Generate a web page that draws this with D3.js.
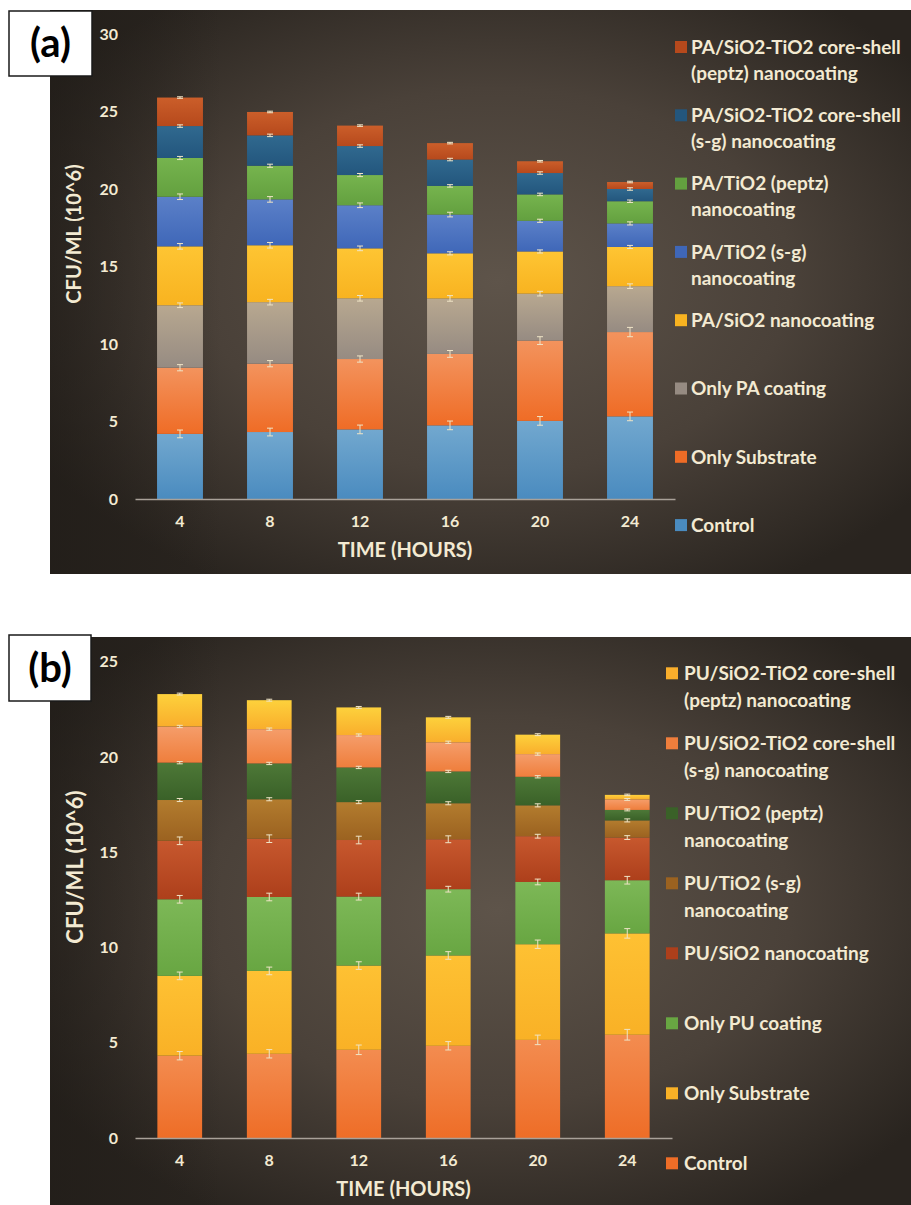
<!DOCTYPE html>
<html><head><meta charset="utf-8">
<script src="https://cdn.jsdelivr.net/npm/d3@7/dist/d3.min.js"></script>
<style>
body{margin:0;background:#fff;}
svg{display:block;font-family:Lato,'Open Sans',sans-serif;font-weight:700;}
</style>
</head><body>
<svg id="chart" width="911" height="1205"></svg>
<script>
// ---------- shared ----------
const times = ["4", "8", "12", "16", "20", "24"];

// ---------- panel (a) data (bottom -> top stacking order) ----------
const seriesKeysA = ["control", "substrate", "paCoating", "paSiO2", "paTiO2sg", "paTiO2pz", "paCoreSg", "paCorePz"];
const legendLinesA = [
  ["Control"], ["Only Substrate"], ["Only PA coating"], ["PA/SiO2 nanocoating"],
  ["PA/TiO2 (s-g)", "nanocoating"], ["PA/TiO2 (peptz)", "nanocoating"],
  ["PA/SiO2-TiO2 core-shell", "(s-g) nanocoating"], ["PA/SiO2-TiO2 core-shell", "(peptz) nanocoating"]
];
const controlA   = [4.20, 4.32, 4.49, 4.75, 5.04, 5.33];
const substrateA = [4.27, 4.41, 4.54, 4.61, 5.18, 5.44];
const paCoatingA = [4.03, 3.97, 3.92, 3.58, 3.03, 2.96];
const paSiO2A    = [3.80, 3.67, 3.22, 2.91, 2.72, 2.53];
const paTiO2sgA  = [3.20, 2.96, 2.78, 2.50, 1.98, 1.52];
const paTiO2pzA  = [2.50, 2.17, 1.95, 1.85, 1.70, 1.43];
const paCoreSgA  = [2.06, 1.96, 1.87, 1.70, 1.38, 0.79];
const paCorePzA  = [1.84, 1.51, 1.32, 1.06, 0.76, 0.45];
// error (+/-) for each series
const errControlA   = [0.25, 0.25, 0.28, 0.28, 0.28, 0.28];
const errSubstrateA = [0.20, 0.20, 0.20, 0.22, 0.25, 0.30];
const errPaCoatingA = [0.15, 0.18, 0.18, 0.18, 0.15, 0.15];
const errPaSiO2A    = [0.18, 0.18, 0.15, 0.10, 0.10, 0.10];
const errPaTiO2sgA  = [0.18, 0.18, 0.15, 0.15, 0.10, 0.10];
const errPaTiO2pzA  = [0.10, 0.10, 0.10, 0.08, 0.08, 0.08];
const errPaCoreSgA  = [0.08, 0.08, 0.08, 0.08, 0.08, 0.08];
const errPaCorePzA  = [0.05, 0.05, 0.05, 0.05, 0.05, 0.05];
const yTicksA = [0, 5, 10, 15, 20, 25, 30];
const colorsA = [
  ["#72a8cf", "#4a8bbf"], ["#f3935d", "#ef6c26"], ["#b8a890", "#968b82"], ["#fec533", "#f8b320"],
  ["#5b80c8", "#3f67b8"], ["#76b44e", "#63a03f"], ["#30698f", "#23567d"], ["#cb5e2a", "#b6491c"]
];

// ---------- panel (b) data ----------
const seriesKeysB = ["control", "substrate", "puCoating", "puSiO2", "puTiO2sg", "puTiO2pz", "puCoreSg", "puCorePz"];
const legendLinesB = [
  ["Control"], ["Only Substrate"], ["Only PU coating"], ["PU/SiO2 nanocoating"],
  ["PU/TiO2 (s-g)", "nanocoating"], ["PU/TiO2 (peptz)", "nanocoating"],
  ["PU/SiO2-TiO2 core-shell", "(s-g) nanocoating"], ["PU/SiO2-TiO2 core-shell", "(peptz) nanocoating"]
];
const controlB   = [4.32, 4.42, 4.63, 4.84, 5.15, 5.42];
const substrateB = [4.19, 4.35, 4.42, 4.74, 5.02, 5.32];
const puCoatingB = [4.02, 3.88, 3.62, 3.48, 3.27, 2.79];
const puSiO2B    = [3.07, 3.06, 2.97, 2.62, 2.40, 2.24];
const puTiO2sgB  = [2.14, 2.07, 1.99, 1.89, 1.62, 0.90];
const puTiO2pzB  = [1.96, 1.88, 1.82, 1.67, 1.50, 0.55];
const puCoreSgB  = [1.90, 1.80, 1.70, 1.53, 1.19, 0.55];
const puCorePzB  = [1.70, 1.52, 1.45, 1.31, 1.02, 0.24];
const errControlB   = [0.22, 0.22, 0.25, 0.22, 0.25, 0.28];
const errSubstrateB = [0.20, 0.20, 0.20, 0.20, 0.22, 0.25];
const errPuCoatingB = [0.20, 0.20, 0.18, 0.15, 0.15, 0.20];
const errPuSiO2B    = [0.20, 0.20, 0.20, 0.18, 0.10, 0.10];
const errPuTiO2sgB  = [0.08, 0.08, 0.08, 0.08, 0.08, 0.08];
const errPuTiO2pzB  = [0.06, 0.06, 0.06, 0.06, 0.06, 0.05];
const errPuCoreSgB  = [0.06, 0.06, 0.06, 0.06, 0.06, 0.05];
const errPuCorePzB  = [0.05, 0.05, 0.05, 0.05, 0.05, 0.04];
const yTicksB = [0, 5, 10, 15, 20, 25];
const colorsB = [
  ["#f38c50", "#ee6d27"], ["#fec133", "#f9b126"], ["#7db857", "#68a642"], ["#c7582e", "#ad3f1b"],
  ["#b37c2e", "#9b6220"], ["#4d7837", "#3a6128"], ["#f59d6a", "#ef7e3c"], ["#fdd13c", "#f9ae2c"]
];

// ---------- drawing ----------
const svg = d3.select("#chart");
const defs = svg.append("defs");
const textColor = "#f3ead2";

function buildRows(seriesArrays, keys) {
  return times.map((t, i) => {
    const row = { time: t };
    keys.forEach((k, j) => row[k] = seriesArrays[j][i]);
    return row;
  });
}

function drawPanel(cfg) {
  const g = svg.append("g");
  // background
  const bgId = "bg" + cfg.id;
  const rg = defs.append("radialGradient").attr("id", bgId)
    .attr("cx", "52%").attr("cy", "48%").attr("r", "62%");
  rg.append("stop").attr("offset", "0%").attr("stop-color", "#5e544a");
  rg.append("stop").attr("offset", "55%").attr("stop-color", "#4a4139");
  rg.append("stop").attr("offset", "100%").attr("stop-color", "#29241f");
  g.append("rect").attr("x", cfg.bg[0]).attr("y", cfg.bg[1])
    .attr("width", cfg.bg[2]).attr("height", cfg.bg[3]).attr("fill", `url(#${bgId})`);
  // left darkening
  const lgId = "lg" + cfg.id;
  const lg = defs.append("linearGradient").attr("id", lgId).attr("x1", 0).attr("x2", 1).attr("y1", 0).attr("y2", 0);
  lg.append("stop").attr("offset", "0%").attr("stop-color", "#1e1a16").attr("stop-opacity", 0.55);
  lg.append("stop").attr("offset", "20%").attr("stop-color", "#1e1a16").attr("stop-opacity", 0);
  g.append("rect").attr("x", cfg.bg[0]).attr("y", cfg.bg[1])
    .attr("width", cfg.bg[2]).attr("height", cfg.bg[3]).attr("fill", `url(#${lgId})`);

  const x = d3.scaleBand().domain(times).range(cfg.xRange)
    .paddingInner(cfg.padIn).paddingOuter(cfg.padOut);
  const y = d3.scaleLinear().domain([0, d3.max(cfg.ticks)]).range(cfg.yRange);

  // gradients for series
  cfg.colors.forEach((c, i) => {
    const gr = defs.append("linearGradient").attr("id", `s${cfg.id}${i}`)
      .attr("x1", 0).attr("y1", 0).attr("x2", 0).attr("y2", 1);
    gr.append("stop").attr("offset", "0%").attr("stop-color", c[0]);
    gr.append("stop").attr("offset", "100%").attr("stop-color", c[1]);
  });

  const rows = buildRows(cfg.series, cfg.keys);
  const stacked = d3.stack().keys(cfg.keys)(rows);

  // bars
  const layers = g.selectAll("g.layer").data(stacked).join("g").attr("class", "layer")
    .attr("fill", (d, i) => `url(#s${cfg.id}${i})`);
  layers.selectAll("rect").data(d => d).join("rect")
    .attr("x", d => x(d.data.time))
    .attr("width", x.bandwidth())
    .attr("y", d => y(d[1]))
    .attr("height", d => y(d[0]) - y(d[1]));

  // error bars
  const errG = g.append("g").attr("stroke", "#efe4c6").attr("stroke-width", 1).attr("fill", "none");
  stacked.forEach((layer, si) => {
    layer.forEach((d, ti) => {
      const e = cfg.errors[si][ti];
      const cx = x(d.data.time) + x.bandwidth() / 2;
      const yt = y(d[1] + e), yb = y(d[1] - e);
      errG.append("line").attr("x1", cx).attr("x2", cx).attr("y1", yt).attr("y2", yb);
      errG.append("line").attr("x1", cx - 3).attr("x2", cx + 3).attr("y1", yt).attr("y2", yt);
      errG.append("line").attr("x1", cx - 3).attr("x2", cx + 3).attr("y1", yb).attr("y2", yb);
    });
  });

  // y axis
  const yAx = g.append("g").attr("transform", `translate(${cfg.xRange[0]},0)`)
    .call(d3.axisLeft(y).tickValues(cfg.ticks).tickSize(0).tickPadding(17));
  yAx.select(".domain").remove();
  yAx.selectAll("text").attr("fill", textColor).style("font-size", "16px").style("font-weight", 700)
    .style("font-family", "Lato");

  // x axis
  const xAx = g.append("g").attr("transform", `translate(0,${cfg.yRange[0]})`)
    .call(d3.axisBottom(x).tickSize(0).tickSizeOuter(0).tickPadding(17));
  xAx.select(".domain").attr("stroke", "#a9a199").attr("stroke-width", 1.5);
  xAx.selectAll("text").attr("fill", textColor).style("font-size", "16px").style("font-weight", 700)
    .style("font-family", "Lato");

  // axis titles
  g.append("text").attr("x", (cfg.xRange[0] + cfg.xRange[1]) / 2).attr("y", cfg.xTitleY)
    .attr("text-anchor", "middle").attr("fill", textColor).style("font-size", "20px").text("TIME (HOURS)");
  g.append("text").attr("transform", `translate(${cfg.yTitle[0]},${cfg.yTitle[1]}) rotate(-90)`)
    .attr("text-anchor", "middle").attr("dy", "0.35em").attr("fill", textColor)
    .style("font-size", cfg.yTitleSize + "px").text("CFU/ML (10^6)");

  // legend (top item = last series)
  const n = cfg.keys.length;
  for (let k = 0; k < n; k++) {
    const si = n - 1 - k;
    const cy = cfg.legend.y0 + k * cfg.legend.step;
    g.append("rect").attr("x", cfg.legend.sx).attr("y", cy - 6).attr("width", 12).attr("height", 12)
      .attr("fill", cfg.colors[si][1]);
    const t = g.append("text").attr("x", cfg.legend.tx).attr("y", cy)
      .attr("fill", textColor).style("font-size", cfg.legend.size + "px");
    cfg.legendLines[si].forEach((line, li) => {
      t.append("tspan").attr("x", cfg.legend.tx).attr("dy", li === 0 ? "0.36em" : cfg.legend.lh).text(line);
    });
  }

  // panel label
  g.append("rect").attr("x", cfg.label.x).attr("y", cfg.label.y).attr("width", cfg.label.w).attr("height", cfg.label.h)
    .attr("fill", "#fff").attr("stroke", "#1a1a1a").attr("stroke-width", 1.5);
  g.append("text").attr("x", cfg.label.x + cfg.label.w / 2).attr("y", cfg.label.by)
    .attr("text-anchor", "middle").attr("fill", "#000").style("font-size", "40px").text(cfg.label.text);
}

drawPanel({
  id: "a",
  bg: [50, 10, 861, 564],
  keys: seriesKeysA,
  series: [controlA, substrateA, paCoatingA, paSiO2A, paTiO2sgA, paTiO2pzA, paCoreSgA, paCorePzA],
  errors: [errControlA, errSubstrateA, errPaCoatingA, errPaSiO2A, errPaTiO2sgA, errPaTiO2pzA, errPaCoreSgA, errPaCorePzA],
  colors: colorsA,
  legendLines: legendLinesA,
  ticks: yTicksA,
  xRange: [135, 675], padIn: 0.49, padOut: 0.245,
  yRange: [499, 34],
  xTitleY: 557,
  yTitle: [74, 234], yTitleSize: 20,
  legend: { y0: 47, step: 68.3, sx: 675, tx: 691, size: 19, lh: 26 },
  label: { x: 9, y: 11, w: 83, h: 65, by: 57, text: "(a)" }
});

drawPanel({
  id: "b",
  bg: [50, 637, 861, 568],
  keys: seriesKeysB,
  series: [controlB, substrateB, puCoatingB, puSiO2B, puTiO2sgB, puTiO2pzB, puCoreSgB, puCorePzB],
  errors: [errControlB, errSubstrateB, errPuCoatingB, errPuSiO2B, errPuTiO2sgB, errPuTiO2pzB, errPuCoreSgB, errPuCorePzB],
  colors: colorsB,
  legendLines: legendLinesB,
  ticks: yTicksB,
  xRange: [135, 672], padIn: 0.5, padOut: 0.25,
  yRange: [1138, 661.7],
  xTitleY: 1196,
  yTitle: [75, 867], yTitleSize: 22,
  legend: { y0: 673.3, step: 70, sx: 666, tx: 684, size: 19, lh: 26.5 },
  label: { x: 9, y: 635, w: 82, h: 66, by: 682, text: "(b)" }
});
</script>
</body></html>
